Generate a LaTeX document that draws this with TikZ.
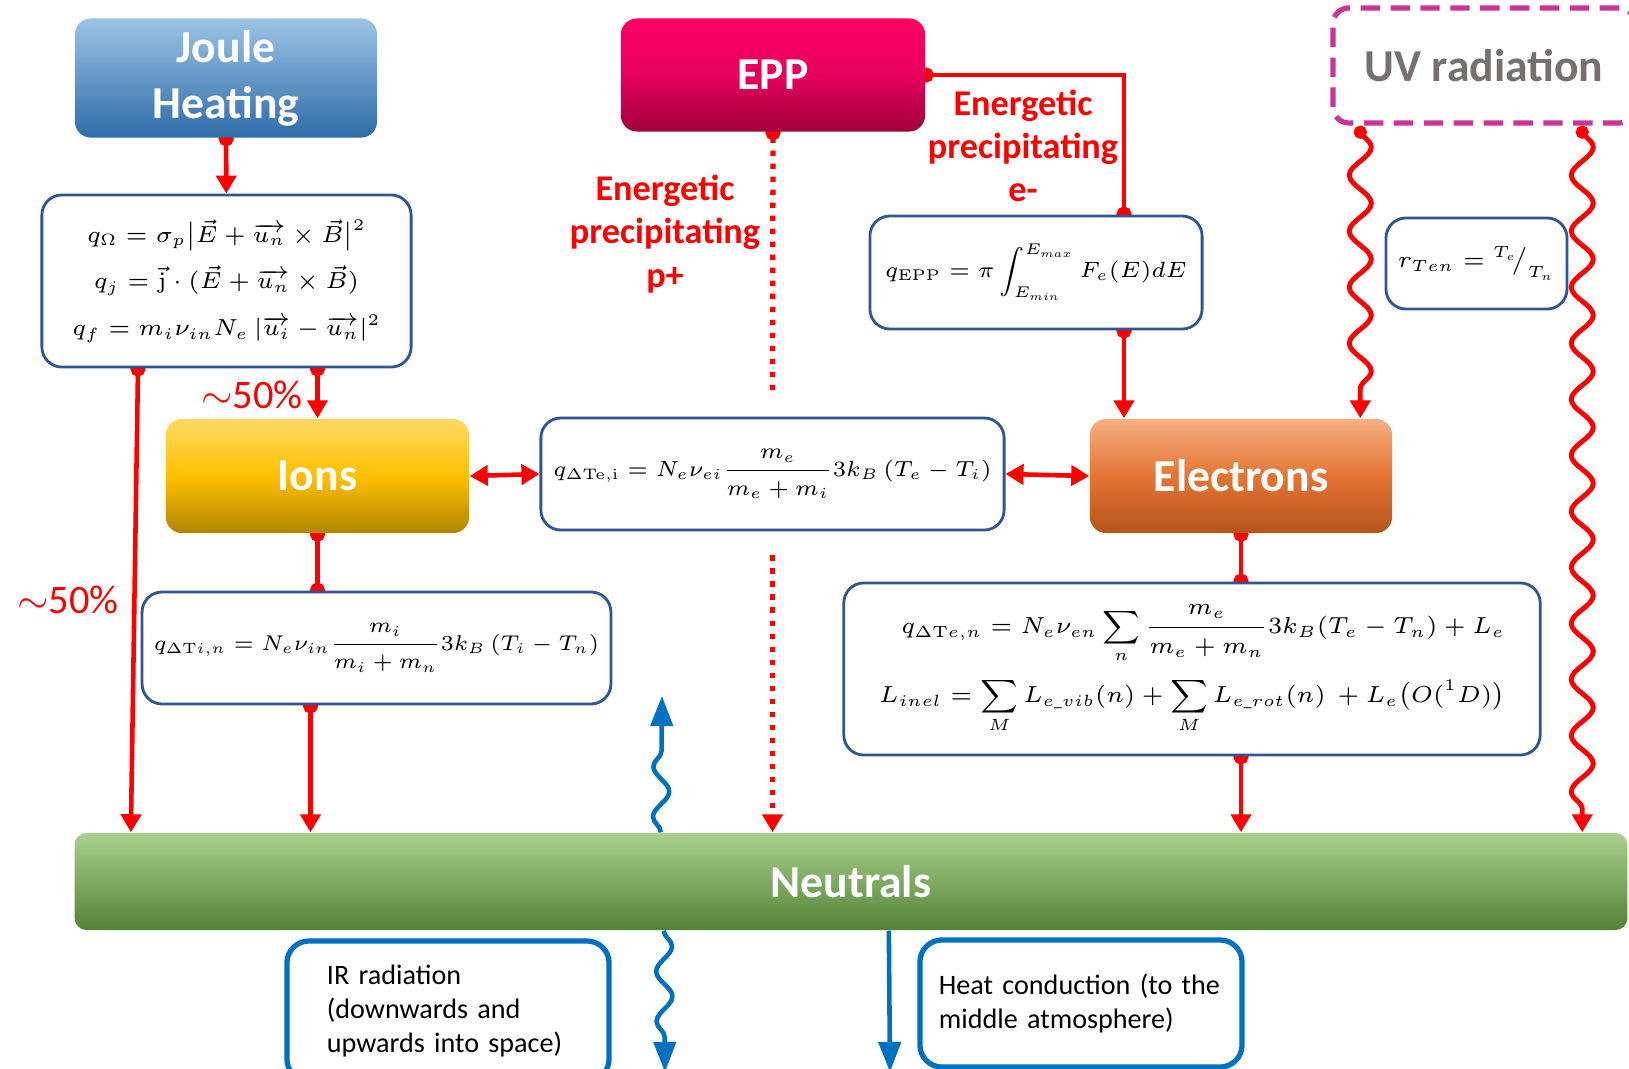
\documentclass[tikz,border=0pt]{standalone}
\usepackage{fix-cm}
\usepackage{amsmath, amssymb}
\usepackage[no-math]{fontspec}
\setmainfont{Carlito}
\usepackage{tikz}
\usetikzlibrary{positioning, arrows.meta, calc, backgrounds, decorations.pathmorphing}

\definecolor{jouletop}{HTML}{9DC3E6}
\definecolor{joulebot}{HTML}{2E6CA8}
\definecolor{epptop}{HTML}{FF0066}
\definecolor{eppmid}{HTML}{E6005C}
\definecolor{eppbot}{HTML}{A0003A}
\definecolor{iontop}{HTML}{FFD966}
\definecolor{ionmid}{HTML}{FFC000}
\definecolor{ionbot}{HTML}{B08600}
\definecolor{electop}{HTML}{F4B183}
\definecolor{elecmid}{HTML}{E57434}
\definecolor{elecbot}{HTML}{B4541C}
\definecolor{neuttop}{HTML}{A9D18E}
\definecolor{neutbot}{HTML}{548235}
\definecolor{eqblue}{HTML}{2F5597}
\definecolor{irblue}{HTML}{0070C0}
\definecolor{uvpink}{HTML}{CC3399}
\definecolor{uvgray}{HTML}{767171}

\begin{document}
\begin{tikzpicture}[
    x=0.01cm, y=-0.01cm,
    block/.style={rounded corners=0.16cm, minimum width=3.02cm, minimum height=1.13cm,
        text=white, align=center, font=\fontsize{13}{15.9}\selectfont\bfseries},
    eqbox/.style={draw=eqblue, line width=0.8pt, rounded corners=0.2cm, fill=white,
        font=\fontsize{6.6}{13.3}\selectfont},
    infobox/.style={draw=irblue, line width=1.5pt, rounded corners=0.22cm, fill=white,
        align=left, font=\fontsize{8}{9.6}\selectfont},
    redlabel/.style={text=red, align=center, font=\fontsize{10.3}{12.3}\selectfont\bfseries},
    pctlabel/.style={text=red, font=\fontsize{11.5}{14}\selectfont},
    heatflow/.style={draw=red, line width=1.3pt, shorten <=-0.07cm,
        arrows={Circle[length=0.15cm]-Triangle[width=0.2cm,length=0.18cm]}},
    heatlink/.style={draw=red, line width=1.3pt, shorten <=-0.07cm, shorten >=-0.07cm,
        arrows={Circle[length=0.15cm]-Circle[length=0.15cm]}},
    exchange/.style={draw=red, line width=1.3pt,
        arrows={Triangle[width=0.2cm,length=0.18cm]-Triangle[width=0.2cm,length=0.18cm]}},
    eppflow/.style={draw=red, line width=1.5pt, dash pattern=on 1.5pt off 2.2pt},
    uvwave/.style={draw=red, line width=1.4pt, decorate,
        decoration={snake, amplitude=0.11cm, segment length=0.56cm, pre length=0.04cm, post length=0.2cm},
        arrows={Circle[length=0.13cm]-Triangle[width=0.2cm,length=0.18cm]}},
    coolwave/.style={draw=irblue, line width=1.3pt, decorate,
        decoration={snake, amplitude=0.08cm, segment length=0.5cm, post length=0.3cm},
        arrows={-Triangle[width=0.22cm,length=0.3cm]}},
    coolflow/.style={draw=irblue, line width=1.3pt, arrows={-Triangle[width=0.22cm,length=0.3cm]}}
]
    \useasboundingbox (0,0) rectangle (1629,1069);

    % heat sources
    \node[block, top color=jouletop, bottom color=joulebot] (joule) at (226,78) {Joule\\Heating};
    \node[block, top color=epptop, bottom color=eppbot, middle color=eppmid, minimum width=3.04cm] (epp) at (773,75) {EPP};
    \node[block, draw=uvpink, fill=white, line width=1.5pt, dash pattern=on 5.5pt off 3pt,
        text=uvgray, minimum height=1.15cm] (uv) at (1484,65.5) {UV radiation};

    % heating rates
    \node[eqbox, minimum width=3.69cm, minimum height=1.72cm, align=center] (qjoule) at (226.5,281)
        {$q_\Omega = \sigma_p\big|\vec{E}+\overrightarrow{u_n}\times\vec{B}\big|^2$\\
         $q_j = \vec{\mathrm{j}}\cdot(\vec{E}+\overrightarrow{u_n}\times\vec{B})$\\
         $q_f = m_i\nu_{in}N_e\ |\overrightarrow{u_i}-\overrightarrow{u_n}|^2$};
    \node[eqbox, font=\fontsize{6.3}{12}\selectfont, minimum width=3.32cm, minimum height=1.13cm] (qepp) at (1036,272.5)
        {$q_{\mathrm{EPP}} = \pi\displaystyle\int_{E_{min}}^{E_{max}} F_e(E)dE$};
    \node[eqbox, minimum width=1.81cm, minimum height=0.91cm] (rten) at (1476.5,263.5)
        {$r_{Ten} = {}^{T_e}\!\big/_{T_n}$};

    % charged species
    \node[block, top color=iontop, bottom color=ionbot, middle color=ionmid, minimum width=3.03cm,
        minimum height=1.14cm] (ions) at (317.5,476) {Ions};
    \node[eqbox, minimum width=4.63cm, minimum height=1.12cm] (qei) at (772.5,474)
        {\scalebox{0.94}{$q_{\Delta\mathrm{Te,i}} = N_e\nu_{ei}\dfrac{m_e}{m_e+m_i}3k_B\left(T_e-T_i\right)$}};
    \node[block, top color=electop, bottom color=elecbot, middle color=elecmid,
        minimum height=1.14cm] (elec) at (1241,476) {Electrons};

    % exchange with neutrals
    \node[eqbox, minimum width=4.63cm, minimum height=1.12cm] (qin) at (376.5,648)
        {\scalebox{0.92}{$q_{\Delta\mathrm{T}i,n} = N_e\nu_{in}\dfrac{m_i}{m_i+m_n}3k_B\left(T_i-T_n\right)$}};
    \node[eqbox, minimum width=6.96cm, minimum height=1.72cm, align=right] (qen) at (1192,669)
        {$q_{\Delta\mathrm{T}e,n} = N_e\nu_{en}\displaystyle\sum_n\frac{m_e}{m_e+m_n}3k_B(T_e-T_n)+L_e$\\[3pt]
         $L_{inel} = \displaystyle\sum_M L_{e\_vib}(n)+\sum_M L_{e\_rot}(n)\ +L_e\big(O(^1D)\big)$};

    \node[block, top color=neuttop, bottom color=neutbot, rounded corners=0.12cm,
        minimum width=15.52cm, minimum height=0.97cm] (neut) at (851,881.5) {Neutrals};

    % cooling
    \node[infobox, minimum height=1.4cm, text width=2.42cm, inner xsep=0.4cm] (ir) at (448,1011)
        {IR radiation\\(downwards and\\upwards into space)};
    \node[infobox, minimum height=1.27cm, text width=2.84cm, inner xsep=0.19cm] (cond) at (1081,1003.5)
        {Heat conduction (to the\\middle atmosphere)};

    % labels
    \node[redlabel] (lblp) at (665,234) {Energetic\\precipitating\\p+};
    \node[redlabel] (lble) at (1023,146) {Energetic\\precipitating\\e-};
    \node[pctlabel] (pctions) at (252,395) {$\sim$50\%};
    \node[pctlabel] (pctneut) at (68,600) {$\sim$50\%};

    % points off the node centres
    \coordinate (jleft) at ($(qjoule.south)+(-88.5,0)$);
    \coordinate (jleftend) at ($(neut.north west)+(57,0)$);
    \coordinate (qinfoot) at ($(qin.south)+(-66,0)$);
    \coordinate (eppturn) at ($(qepp.north)+(88,0)$);
    \coordinate (qeppfoot) at ($(qepp.south)+(88,0)$);
    \coordinate (pgapA) at ($(qei.north)+(0,-25)$);
    \coordinate (pgapB) at ($(qei.south)+(0,24)$);
    \coordinate (uvleft) at ($(uv.south west)+(30,0)$);
    \coordinate (uvright) at ($(uv.south west)+(252,0)$);
    \coordinate (irfoot) at ($(neut.north west)+(587,0)$);
    \coordinate (irsouth) at ($(neut.south west)+(590,0)$);
    \coordinate (condsouth) at ($(neut.south west)+(815,0)$);
    \coordinate (irup) at (662,696);
    \coordinate (irdown) at (665,1072);
    \coordinate (conddown) at (890,1072);

    \begin{scope}[on background layer]
        \draw[heatflow] (joule) -- (qjoule);
        \draw[heatflow] (jleft) -- (jleftend);
        \draw[heatflow] (qjoule.south -| ions.north) -- (ions.north);
        \draw[heatlink] (ions.south) -- (ions.south |- qin.north);
        \draw[heatflow] (qinfoot) -- (qinfoot |- neut.north);
        \draw[exchange] (ions.east) -- (qei.west);
        \draw[exchange] (qei.east) -- (elec.west);
        \draw[eppflow, shorten <=-0.07cm, arrows={Circle[length=0.15cm]-}] (epp.south) -- (pgapA);
        \draw[eppflow, arrows={-Triangle[width=0.2cm,length=0.18cm]}] (pgapB) -- (pgapB |- neut.north);
        \draw[heatlink] (epp.east) -| (eppturn);
        \draw[heatflow] (qeppfoot) -- (qeppfoot |- elec.north);
        \draw[heatlink] (elec.south) -- (elec.south |- qen.north);
        \draw[heatflow] (elec.south |- qen.south) -- (elec.south |- neut.north);
        \draw[uvwave] (uvleft) -- (uvleft |- elec.north);
        \draw[uvwave] (uvright) -- (uvright |- neut.north);
        \draw[coolwave] (irfoot) -- (irup);
        \draw[coolwave] (irsouth) -- (irdown);
        \draw[coolflow] (condsouth) -- (conddown);
    \end{scope}
\end{tikzpicture}
\end{document}
